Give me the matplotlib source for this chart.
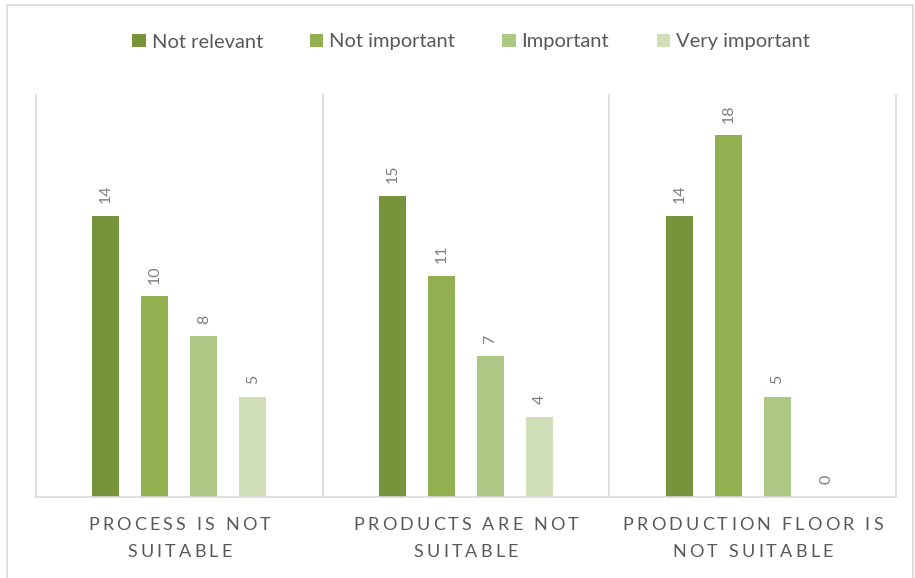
import matplotlib
matplotlib.use("Agg")
import matplotlib.pyplot as plt
from matplotlib.patches import Rectangle
import numpy as np

plt.rcParams['font.family'] = ['Lato', 'DejaVu Sans']

categories = ["PROCESS IS NOT\nSUITABLE", "PRODUCTS ARE NOT\nSUITABLE", "PRODUCTION FLOOR IS\nNOT SUITABLE"]
series_names = ["Not relevant", "Not important", "Important", "Very important"]
not_relevant = [14, 15, 14]
not_important = [10, 11, 18]
important = [8, 7, 5]
very_important = [5, 4, 0]
series_values = [not_relevant, not_important, important, very_important]
colors = ["#77933C", "#92B050", "#ADC785", "#D0DFB8"]

W, H = 915, 578
fig = plt.figure(figsize=(W / 100, H / 100), dpi=100)
fig.patch.set_facecolor("white")

# light outer frame of the chart area
fig.add_artist(Rectangle((7 / W, -0.01), (913 - 7) / W, (H - 5) / H + 0.01,
                         transform=fig.transFigure, fill=False,
                         edgecolor="#D9D9D9", linewidth=1.2))

left, right, top, bottom = 36, 896, 95, 497
ax = fig.add_axes([left / W, (H - bottom) / H, (right - left) / W, (bottom - top) / H])

x = np.arange(len(categories))
step = 0.1707
width = 0.094
for i, (name, vals, col) in enumerate(zip(series_names, series_values, colors)):
    pos = x + (i - 1.5) * step
    ax.bar(pos, vals, width=width, color=col, label=name, zorder=2)
    for px, v in zip(pos, vals):
        ax.annotate(str(v), (px, v), xytext=(0, 9), textcoords="offset points",
                    rotation=90, ha="center", va="bottom",
                    fontsize=11.5, color="#7F7F7F")

ax.set_xlim(-0.5, 2.5)
ax.set_ylim(0, 20)
ax.set_yticks([])
ax.set_xticks([])

# category labels, drawn with widened letter spacing
def spaced_label(ax, xc, text, y_px, size=13, tracking=3.2):
    fig = ax.figure
    renderer = fig.canvas.get_renderer()
    widths = []
    for ch in text:
        if ch == " ":
            widths.append(size * 0.25 * 100 / 72)
            continue
        t = fig.text(0, 0, ch, fontsize=size)
        widths.append(t.get_window_extent(renderer).width)
        t.remove()
    total = sum(widths) + tracking * (len(text) - 1)
    xpix = ax.transData.transform((xc, 0))[0] - total / 2
    for ch, w in zip(text, widths):
        if ch != " ":
            fig.text(xpix / W, (H - y_px) / H, ch, fontsize=size, color="#595959",
                     ha="left", va="center")
        xpix += w + tracking

fig.canvas.draw()
for xc, lab in zip(x, categories):
    for k, line in enumerate(lab.split("\n")):
        spaced_label(ax, xc, line, 525 + 27 * k)

for s in ["top", "left", "right"]:
    ax.spines[s].set_visible(False)
ax.spines["bottom"].set_color("#D9D9D9")
ax.spines["bottom"].set_linewidth(1.2)

# separators between the category groups
for b in [-0.5, 0.5, 1.5, 2.5]:
    ax.axvline(b, color="#D9D9D9", linewidth=1.2, zorder=1, clip_on=False)

leg = fig.legend(loc="center", bbox_to_anchor=(471 / W, (H - 42) / H), ncol=4,
                 frameon=False, fontsize=14.5, handlelength=0.65, handleheight=0.65,
                 handletextpad=0.3, columnspacing=2.35, labelcolor="#595959")

fig.savefig("out.png", dpi=100, facecolor="white")
